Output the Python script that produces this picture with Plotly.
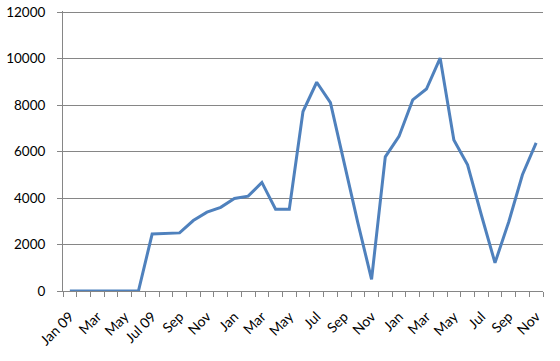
import plotly.graph_objects as go

months = ["Jan 09", "Feb 09", "Mar 09", "Apr 09", "May 09", "Jun 09", "Jul 09", "Aug 09", "Sep 09",
          "Oct 09", "Nov 09", "Dec 09", "Jan 10", "Feb 10", "Mar 10", "Apr 10", "May 10", "Jun 10",
          "Jul 10", "Aug 10", "Sep 10", "Oct 10", "Nov 10", "Dec 10", "Jan 11", "Feb 11", "Mar 11",
          "Apr 11", "May 11", "Jun 11", "Jul 11", "Aug 11", "Sep 11", "Oct 11", "Nov 11"]
values = [0, 0, 0, 0, 0, 0, 2450, 2490, 2500, 3030, 3390, 3600, 3980, 4080, 4670, 3520, 3520,
          7720, 8980, 8100, 5470, 2930, 500, 5770, 6650, 8220, 8690, 10020, 6500, 5430, 3280,
          1210, 2970, 5000, 6370]
tick_labels = ["Jan 09", "Mar", "May", "Jul 09", "Sep", "Nov", "Jan", "Mar", "May", "Jul",
               "Sep", "Nov", "Jan", "Mar", "May", "Jul", "Sep", "Nov"]
y_ticks = [0, 2000, 4000, 6000, 8000, 10000, 12000]

idx = list(range(len(months)))

fig = go.Figure()
fig.add_trace(go.Scatter(
    x=idx, y=values, mode="lines",
    line=dict(color="#4F81BD", width=3),
    customdata=months, hovertemplate="%{customdata}: %{y}<extra></extra>",
))

grid = "#868686"
fig.update_layout(
    width=560, height=361,
    margin=dict(l=63, r=17, t=11, b=70),
    paper_bgcolor="white", plot_bgcolor="white",
    showlegend=False,
    font=dict(family="Lato, Open Sans, sans-serif", size=14, color="black"),
    xaxis=dict(
        range=[-0.5, len(months) - 0.5],
        tickvals=idx[::2], ticktext=tick_labels,
        tickangle=-45, ticks="", showgrid=False, zeroline=False,
        showline=True, linecolor=grid, linewidth=1,
        minor=dict(tickvals=[i - 0.5 for i in range(len(months) + 1)],
                   ticks="outside", ticklen=5, tickcolor=grid, showgrid=False),
        ticklabelstandoff=11,
        automargin=False,
        ticklabeloverflow="allow",
    ),
    yaxis=dict(
        range=[0, 12045], tickvals=y_ticks, tickformat="d",
        tickfont=dict(size=13.5),
        showgrid=True, gridcolor=grid, gridwidth=1,
        zeroline=False, showline=True, linecolor=grid, linewidth=1,
        ticks="outside", ticklen=5, tickcolor=grid,
        ticklabelstandoff=9,
        automargin=False,
        ticklabeloverflow="allow",
    ),
)

fig.write_html("out.html", config={"displayModeBar": False},
               post_script="document.body.style.margin='0';document.body.style.padding='0';")
